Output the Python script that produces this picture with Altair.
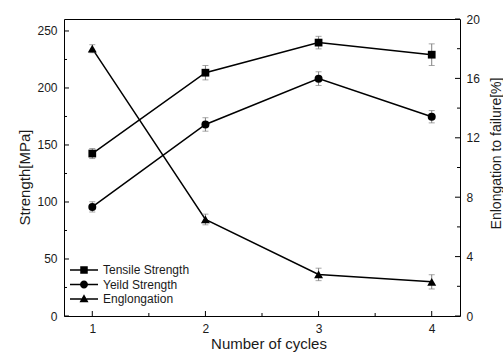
import altair as alt
import pandas as pd

# ---- data ----
cycles = [1, 2, 3, 4]
tensile = [142.5, 213.4, 239.8, 229.2]
tensile_err = [4.4, 6.3, 5.5, 9.5]
yield_strength = [95.7, 168.0, 208.2, 174.8]
yield_err = [4.5, 5.9, 6.0, 5.4]
elongation = [18.0, 6.5, 2.8, 2.3]
elongation_err = [0.27, 0.36, 0.42, 0.48]

series_names = ["Tensile Strength", "Yeild Strength", "Englongation"]

x_major = [1, 2, 3, 4]
x_minor = [1.5, 2.5, 3.5]
left_major = [0, 50, 100, 150, 200, 250]
left_minor = [25, 75, 125, 175, 225]
right_major = [0, 4, 8, 12, 16, 20]
right_minor = [2, 6, 10, 14, 18]

W, H = 396, 297
FONT = "Liberation Sans"
TXT = "#1a1a1a"
ERR = "#808080"


def frame(vals, errs, name):
    return pd.DataFrame({
        "cycle": cycles,
        "value": vals,
        "lo": [v - e for v, e in zip(vals, errs)],
        "hi": [v + e for v, e in zip(vals, errs)],
        "series": name,
    })


df_t = frame(tensile, tensile_err, series_names[0])
df_y = frame(yield_strength, yield_err, series_names[1])
df_e = frame(elongation, elongation_err, series_names[2])

x_scale = alt.Scale(domain=[0.75, 4.25], nice=False, zero=False)
x_axis = alt.Axis(values=x_major, format="d", ticks=False, tickSize=0, domain=False, grid=False,
                  labelFontSize=12, labelPadding=7, labelFont=FONT, labelColor=TXT,
                  title="Number of cycles", titleFont=FONT, titleFontSize=15, titleFontWeight="normal",
                  titleColor=TXT, titleX=204.5, titleY=27, titleAlign="center", titleBaseline="middle",
                  titleLimit=1000)

left_scale = alt.Scale(domain=[0, 260.5], nice=False, zero=False)
left_axis = alt.Axis(values=left_major, ticks=False, tickSize=0, domain=False, grid=False,
                     labelFontSize=12, labelPadding=7, labelFont=FONT, labelColor=TXT,
                     title="Strength[MPa]", titleFont=FONT, titleFontSize=15, titleFontWeight="normal",
                     titleColor=TXT, titleAngle=270, titleX=-40, titleY=158,
                     titleAlign="center", titleBaseline="middle", titleLimit=1000)

right_scale = alt.Scale(domain=[0, 20], nice=False, zero=False)
right_axis = alt.Axis(orient="right", values=right_major, ticks=False, tickSize=0, domain=False, grid=False,
                      labelFontSize=12, labelPadding=6, labelFont=FONT, labelColor=TXT,
                      title="Enlongation to failure[%]", titleFont=FONT, titleFontSize=14,
                      titleFontWeight="normal", titleColor=TXT, titleAngle=270, titleX=36.7, titleY=134,
                      titleAlign="center", titleBaseline="middle", titleLimit=1000)


def X(field="cycle"):
    return alt.X(f"{field}:Q", scale=x_scale, axis=x_axis)


def YL(field):
    return alt.Y(f"{field}:Q", scale=left_scale, axis=left_axis)


def YR(field):
    return alt.Y(f"{field}:Q", scale=right_scale, axis=right_axis)


def series_layers(df, Yf, shape, size):
    base = alt.Chart(df)
    line = base.mark_line(color="black", strokeWidth=1.5).encode(x=X(), y=Yf("value"))
    bar = base.mark_rule(color=ERR, strokeWidth=1).encode(x=X(), y=Yf("lo"), y2="hi")
    cap_lo = base.mark_tick(color=ERR, thickness=1, size=6, orient="horizontal").encode(x=X(), y=Yf("lo"))
    cap_hi = base.mark_tick(color=ERR, thickness=1, size=6, orient="horizontal").encode(x=X(), y=Yf("hi"))
    pts = base.mark_point(shape=shape, filled=True, color="black", size=size, opacity=1).encode(
        x=X(), y=Yf("value"))
    return [line, bar, cap_lo, cap_hi, pts]


# inward tick marks
def yticks(vals, Yf, x0, x1):
    return alt.Chart(pd.DataFrame({"t": vals})).mark_rule(color="black", strokeWidth=1).encode(
        y=Yf("t"), x=alt.value(x0), x2=alt.value(x1))


xt_major = alt.Chart(pd.DataFrame({"t": x_major})).mark_rule(color="black", strokeWidth=1).encode(
    x=X("t"), y=alt.value(H - 5), y2=alt.value(H))
xt_minor = alt.Chart(pd.DataFrame({"t": x_minor})).mark_rule(color="black", strokeWidth=1).encode(
    x=X("t"), y=alt.value(H - 3), y2=alt.value(H))

# legend with line+marker symbols (the line is two thin filled bars either side of the marker)
line_part = "M-2.8,-0.15H-0.5V0.15H-2.8Z M0.5,-0.15H2.8V0.15H0.5Z "
sym_paths = [
    line_part + "M-0.75,-0.75H0.75V0.75H-0.75Z",
    line_part + "M-0.8,0A0.8,0.8,0,1,1,0.8,0A0.8,0.8,0,1,1,-0.8,0Z",
    line_part + "M0,-0.95L0.9,0.65H-0.9Z",
]
legend_layer = alt.Chart(pd.DataFrame({"series": series_names})).mark_point(
    filled=True, opacity=0, size=100, color="black").encode(
    x=alt.value(0), y=alt.value(0),
    shape=alt.Shape("series:N", sort=series_names,
                    scale=alt.Scale(domain=series_names, range=sym_paths),
                    legend=alt.Legend(title=None, orient="none", legendX=14, legendY=245,
                                      symbolSize=100, symbolOpacity=1, symbolFillColor="black",
                                      symbolStrokeColor="black", symbolStrokeWidth=0,
                                      labelFontSize=12, labelFont=FONT, labelColor=TXT,
                                      labelOffset=13, rowPadding=2.5, padding=0)))

left = alt.layer(
    yticks(left_major, YL, 0, 5),
    yticks(left_minor, YL, 0, 3),
    xt_major, xt_minor,
    *series_layers(df_t, YL, "square", 60),
    *series_layers(df_y, YL, "circle", 64),
    legend_layer,
)

right = alt.layer(
    yticks(right_major, YR, W - 5, W),
    yticks(right_minor, YR, W - 3, W),
    *series_layers(df_e, YR, "triangle-up", 80),
)

chart = alt.layer(left, right).resolve_scale(y="independent").properties(
    width=W, height=H,
    autosize=alt.AutoSizeParams(type="none"),
    padding={"left": 64, "top": 19, "right": 43, "bottom": 36},
    background="white",
).configure_view(stroke="black", strokeWidth=1).configure_axisLeft(
    titleFontSize=15, titleLimit=1000
)

chart.save("out.html", embed_options={"renderer": "svg", "actions": False})
